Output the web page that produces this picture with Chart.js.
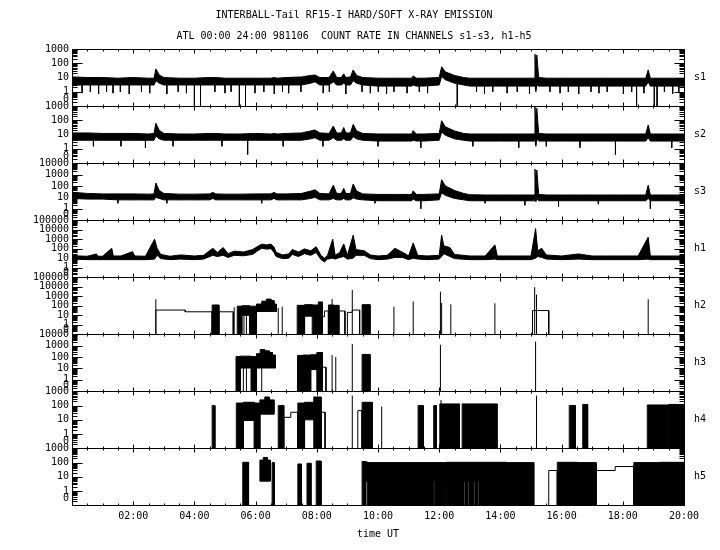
<!DOCTYPE html>
<html><head><meta charset="utf-8">
<script src="https://cdn.jsdelivr.net/npm/chart.js@4/dist/chart.umd.min.js"></script>
<style>html,body{margin:0;padding:0;background:#fff}canvas{display:block}</style>
</head><body><canvas id="c" width="720" height="550"></canvas>
<script>
// ---------- DATA ----------
const titleLines = ['INTERBALL-Tail RF15-I HARD/SOFT X-RAY EMISSION', 'ATL 00:00 24:00 981106  COUNT RATE IN CHANNELS s1-s3, h1-h5'];
const xTitle = 'time UT';
const hourTicks = [2, 4, 6, 8, 10, 12, 14, 16, 18, 20];
const panelNames = ['s1', 's2', 's3', 'h1', 'h2', 'h3', 'h4', 'h5'];
const panelMax = [1000, 1000, 10000, 100000, 100000, 10000, 1000, 1000];

// soft channels: common time grid (hours UT), upper / lower envelope of the noisy trace (counts)
const sTime = [0,0.5,1,1.5,2,2.5, 2.68,2.74,2.85,3.0, 3.5,4,4.5,4.6,4.7, 5,5.5,6,6.5,6.6,6.7, 7,7.5,7.8,7.94,8.1, 8.4,8.54,8.65,8.8,8.88,8.95, 9.1,9.19,9.3,9.5, 10,10.5,11,11.1,11.15,11.25,11.5, 12.0,12.08,12.2,12.5,12.8, 13,13.5,14,14.5,15, 15.1,15.13,15.16,15.19,15.25, 15.5,16,16.5,17,17.5,18,18.5, 18.75,18.83,18.9,19,19.5,20];
const s1Hi = [11,10,10,9,10,9, 9,40,15,10, 9,9,10,10,10, 9,9,9,9,10,9, 10,11,14,15,10, 10,29,10,10,18,10, 11,34,14,10, 9,9,9,9,13,9,9, 10,57,25,14,10, 9,9,9,9,9, 9,425,30,380,10, 9,9,9,9,9,9,9, 9,34,9,9,9,9];
const s1Lo = [3,3,3,3,3,3, 3,6,4,3, 3,3,3,3,3, 3,3,3,3,3,3, 3,3,4,5,3, 3,5,3,3,4,3, 3,6,4,3, 2.5,2.5,2.5,2.5,3,2.5,2.5, 3,12,7,4,3, 2.5,2.5,2.5,2.5,2.5, 2.5,3,1,3,2.5, 2.5,2.5,2.5,2.5,2.5,2.5,2.5, 2.5,5,2.5,2.5,2.5,2.5];
const s2Hi = [13,13,12,12,12,11, 12,62,20,12, 11,11,12,12,12, 11,11,12,11,12,11, 12,13,18,21,13, 12,40,13,13,31,13, 13,52,18,12, 11,11,11,11,19,11,11, 12,95,35,18,12, 11,11,11,11,11, 11,900,40,700,12, 11,11,11,11,11,11,11, 11,47,11,11,11,11];
const s2Lo = [4,4,4,4,4,4, 4,8,5,4, 4,4,4,4,4, 4,4,4,4,4,4, 4,4,5,6,4, 4,6,4,4,5,4, 4,7,5,4, 3.5,3.5,3.5,3.5,4,3.5,3.5, 4,15,9,5,4, 3.5,3.5,3.5,3.5,3.5, 3.5,5,1.5,5,3.5, 3.5,3.5,3.5,3.5,3.5,3.5,3.5, 3.5,6,3.5,3.5,3.5,3.5];
const s3Hi = [28,22,20,20,20,19, 20,180,40,22, 19,19,20,27,20, 19,19,20,20,27,20, 20,22,35,46,22, 20,117,22,22,60,22, 22,145,35,20, 18,18,18,18,37,18,18, 20,350,100,40,22, 17,16,16,16,16, 16,3000,60,2500,18, 16,16,16,16,16,16,16, 16,117,16,16,16,16];
const s3Lo = [8,7,7,6,6,6, 6,10,8,6, 6,6,6,8,6, 6,6,6,6,8,6, 6,6,8,10,6, 6,8,6,6,8,6, 6,9,7,6, 5,5,5,5,7,5,5, 6,25,15,8,6, 5,5,5,5,5, 5,8,4,8,5, 5,5,5,5,5,5,5, 5,8,5,5,5,5];

// downward excursions below the soft bands (time, count; 0 = zero count)
const s1DipT = [0.33,0.6,0.87,1.13,1.34,1.58,1.87,2.27,2.54,3.1,3.47,3.74,4.0,4.2,4.67,5.0,5.2,5.47,5.67,5.98,6.27,6.61,6.88,7.08,7.48,8.21,8.41,8.95,9.48,9.75,10.01,10.28,10.52,10.95,11.35,11.62,12.59,13.22,13.48,13.75,14.22,14.55,14.95,15.62,15.95,16.22,16.56,16.96,17.22,17.49,18.02,18.29,18.45,18.69,19.03,19.12,19.36,19.63,19.83];
const s1DipV = [0.8,1,0.7,1,0.8,1,0.7,1,0.8,0.7,1,0.8,0,0,1,0.8,1,0,0,0.8,1,0.7,1,0.8,1,0.8,1,0.7,1,0.8,1,0.7,1,0.8,1,0.8,0,1,0.7,1,0.8,1,0.7,1,0.8,1,0.7,1,0.8,1,0.7,1,0,0.8,0,0,1,0.7,1];
const s2DipT = [0.7,1.6,2.4,3.3,4.9,5.74,6.9,8.2,10.0,11.4,13.1,14.6,15.5,16.6,17.76,19.6];
const s2DipV = [1.5,1.5,1.2,1.5,1.5,0.4,1.5,1.5,1.5,1.2,1.5,1.2,1.5,1.2,0.4,1.2];
const s3DipT = [1.5,3.1,6.2,9.9,11.4,13.5,14.8,15.9,17.2,18.9];
const s3DipV = [3,3,3,3,1,3,2,1.5,2.5,1];

// h1: time grid and envelopes
const h1Time = [0,0.5,0.8,0.85,1.0,1.3,1.35,1.6,1.98,2.05, 2.4,2.7,2.78,2.9,3.2,3.55,4.0,4.3,4.6,4.75, 4.94,5.1,5.3,5.6,5.9,6.1,6.2,6.35,6.5,6.6, 6.67,6.88,7.08,7.2,7.4,7.6,7.8,7.98,8.14,8.25, 8.35,8.52,8.6,8.75,8.88,9.0,9.19,9.28,9.55,9.75, 10.0,10.3,10.55,10.8,11.0,11.15,11.3,11.6,12.0,12.08, 12.15,12.35,12.5,13.0,13.5,13.82,13.9,14.5,15.0,15.15, 15.22,15.35,15.5,16.0,16.55,17.0,17.5,18.0,18.5,18.83, 18.9,19.5,20];
const h1Hi = [18,16,28,16,16,110,17,17,49,17, 16,1000,110,25,16,22,17,20,110,40, 130,30,55,45,80,200,300,250,300,150, 42,22,28,80,45,95,60,160,19,10, 20,1000,20,40,320,20,2700,80,60,22, 17,20,110,42,18,400,20,17,20,2700, 200,130,25,17,17,250,17,17,17,13000, 60,110,22,17,28,17,17,17,17,1600, 17,17,17];
const h1Lo = [8,7,7,7,7,7,7,7,7,7, 7,8,20,9,7,8,7,8,20,15, 20,12,20,18,25,70,110,90,100,40, 15,9,10,25,15,30,20,40,7,4, 8,10,8,12,15,8,10,20,20,9, 7,8,12,12,7,10,8,7,8,15, 30,15,9,7,7,8,7,7,7,10, 15,12,8,7,8,7,7,7,7,8, 7,7,7];

// hard channels: dense blocks (start h, end h, top count, bottom count)
const h2BlkS = [4.58,5.40,5.55,5.80,6.03,6.20,6.35,6.50,6.60,7.36,7.60,7.85,8.05,8.38,8.55,9.48];
const h2BlkE = [4.80,5.55,5.80,6.03,6.20,6.35,6.50,6.60,6.68,7.60,7.85,8.05,8.18,8.55,8.72,9.74];
const h2BlkTop = [120,90,100,90,150,300,500,350,150,110,130,120,250,120,110,130];
const h2BlkBot = [0,0,10,0,25,25,25,25,25,0,8,0,0,0,0,0];
const h2SpkT = [2.74,5.30,5.62,5.70,6.74,6.87,8.50,9.16,10.52,11.15,12.04,12.08,12.38,13.82,15.12,15.18,18.83];
const h2SpkV = [480,70,100,100,60,80,500,4600,80,275,3000,200,140,180,9000,1500,480];
const h2StepS = [2.74,3.70,4.80,8.18,8.25,8.72,9.00,9.16,15.05];
const h2StepE = [3.70,4.58,5.27,8.25,8.38,8.92,9.16,9.40,15.58];
const h2StepV = [35,23,23,7,28,28,20,35,31];

const h3BlkS = [5.36,5.50,5.85,6.03,6.15,6.30,6.45,6.55,7.37,7.55,7.80,8.00,9.48];
const h3BlkE = [5.50,5.85,6.03,6.15,6.30,6.45,6.55,6.65,7.55,7.80,8.00,8.18,9.74];
const h3BlkTop = [110,120,110,200,450,350,250,150,140,150,160,250,170];
const h3BlkBot = [0,11,0,11,11,11,11,11,0,0,8,0,0];
const h3SpkT = [5.6,5.7,6.2,8.50,8.62,9.16,12.04,15.15];
const h3SpkV = [100,100,300,150,100,1400,1200,2300];
const h3StepS = [8.18];
const h3StepE = [8.30];
const h3StepV = [13];

const h4BlkS = [4.58,5.37,5.60,5.95,6.14,6.30,6.45,6.74,7.38,7.60,7.90,9.48,11.31,11.82,12.02,12.75,16.25,16.69,18.80,19.49];
const h4BlkE = [4.67,5.60,5.95,6.14,6.30,6.45,6.60,6.92,7.60,7.90,8.14,9.81,11.48,11.91,12.66,13.89,16.45,16.85,19.47,20.00];
const h4BlkTop = [100,150,170,150,250,400,250,100,150,170,400,170,100,100,130,130,100,120,110,120];
const h4BlkBot = [0,0,9,0,25,25,25,0,0,10,0,0,0,0,0,0,0,0,0,0];
const h4SpkT = [9.16,10.12,12.06,15.18];
const h4SpkV = [500,85,250,500];
const h4StepS = [6.92,7.15,8.14,9.34];
const h4StepE = [7.15,7.38,8.27,9.48];
const h4StepV = [15,34,34,44];

const h5BlkS = [5.58,6.14,6.25,6.38,6.54,7.38,7.68,7.98,9.48,9.60,9.66,11.80,11.84,12.20,12.24,12.80,12.84,12.93,12.97,13.13,13.17,13.26,13.30,14.20,15.86,16.50,18.36,19.20];
const h5BlkE = [5.77,6.25,6.38,6.48,6.61,7.50,7.81,8.14,9.60,9.66,11.80,11.84,12.20,12.24,12.80,12.84,12.93,12.97,13.13,13.17,13.26,13.30,14.20,15.09,16.50,17.13,19.20,20.00];
const h5BlkTop = [105,150,230,150,100,80,90,130,120,110,100,100,100,100,105,105,105,105,105,105,105,105,105,100,105,100,100,105];
const h5BlkBot = [0,5,5,5,0,0,0,0,0,5,0,5,0,5,0,5,0,5,0,5,0,5,0,0,0,0,0,0];
const h5StepS = [15.58,17.13,17.75];
const h5StepE = [15.86,17.75,18.36];
const h5StepV = [28,28,53];

// ---------- BUILD ----------
const MONO = 'DejaVu Sans Mono';
const ZERO_TICK = -0.5;
const L = v => (v === null ? null : (v <= 0 ? -1 : Math.log10(v)));
const line = {borderColor:'#000', backgroundColor:'#000', borderWidth:1, pointRadius:0, tension:0, spanGaps:false};
const ds = [];

function pts(ts, vs){ return ts.map((t,i)=>({x:t, y:L(vs[i])})); }
function addBand(id, ts, hi, lo){
  ds.push(Object.assign({yAxisID:id, data:pts(ts,hi), fill:'+1'}, line));
  ds.push(Object.assign({yAxisID:id, data:pts(ts,lo), fill:false}, line));
}
function addVLines(id, ts, vs, base){
  const d=[]; ts.forEach((t,i)=>{ d.push({x:t,y:L(base)},{x:t,y:L(vs[i])},{x:t,y:null}); });
  ds.push(Object.assign({yAxisID:id, data:d, fill:false}, line));
}
function addBlocks(id, S, E, T, B){
  const top=[], bot=[];
  S.forEach((s,i)=>{ const e=E[i], t=L(T[i]), b=L(B[i]);
    top.push({x:s,y:b},{x:s,y:t},{x:e,y:t},{x:e,y:b},{x:e,y:null});
    bot.push({x:s,y:b},{x:e,y:b},{x:e,y:null}); });
  ds.push(Object.assign({yAxisID:id, data:top, fill:'+1'}, line));
  ds.push(Object.assign({yAxisID:id, data:bot, fill:false}, line));
}
function addSteps(id, S, E, V){
  const d=[];
  S.forEach((s,i)=>{
    const joined = i>0 && s===E[i-1];
    if(!joined){ if(i>0){ d.push({x:E[i-1],y:-1},{x:E[i-1],y:null}); } d.push({x:s,y:-1}); }
    d.push({x:s,y:L(V[i])},{x:E[i],y:L(V[i])});
  });
  if(S.length) d.push({x:E[E.length-1],y:-1});
  ds.push(Object.assign({yAxisID:id, data:d, fill:false}, line));
}

addBand('s1', sTime, s1Hi, s1Lo); addVLines('s1', s1DipT, s1DipV, 4);
addBand('s2', sTime, s2Hi, s2Lo); addVLines('s2', s2DipT, s2DipV, 5);
addBand('s3', sTime, s3Hi, s3Lo); addVLines('s3', s3DipT, s3DipV, 8);
addBand('h1', h1Time, h1Hi, h1Lo);
addBlocks('h2', h2BlkS, h2BlkE, h2BlkTop, h2BlkBot); addVLines('h2', h2SpkT, h2SpkV, 0); addSteps('h2', h2StepS, h2StepE, h2StepV);
addBlocks('h3', h3BlkS, h3BlkE, h3BlkTop, h3BlkBot); addVLines('h3', h3SpkT, h3SpkV, 0); addSteps('h3', h3StepS, h3StepE, h3StepV);
addBlocks('h4', h4BlkS, h4BlkE, h4BlkTop, h4BlkBot); addVLines('h4', h4SpkT, h4SpkV, 0); addSteps('h4', h4StepS, h4StepE, h4StepV);
addBlocks('h5', h5BlkS, h5BlkE, h5BlkTop, h5BlkBot); addSteps('h5', h5StepS, h5StepE, h5StepV);

const scales = {
  x: {type:'linear', min:0, max:20,
    afterBuildTicks: s => { s.ticks = hourTicks.map(v=>({value:v})); },
    ticks:{autoSkip:false, maxRotation:0, padding:5, color:'#000', font:{family:MONO, size:10},
      callback: v => String(v).padStart(2,'0') + ':00'},
    grid:{display:false, drawTicks:false}, border:{display:false},
    title:{display:true, text:xTitle, color:'#000', font:{family:MONO, size:10}, padding:{top:1, bottom:0}}}
};
panelNames.forEach((id,i)=>{
  const top = Math.round(Math.log10(panelMax[i]));
  scales[id] = {type:'linear', position:'left', stack:'panels', stackWeight:1, weight: panelNames.length - i,
    min:-1, max:top,
    afterBuildTicks: s => { const t=[{value:ZERO_TICK}]; for(let d=0; d<=top; d++) t.push({value:d}); s.ticks=t; },
    afterFit: s => { s.width = 48; },
    ticks:{autoSkip:false, padding:3, color:'#000', font:{family:MONO, size:10},
      callback: v => v===ZERO_TICK ? '0' : String(Math.round(Math.pow(10, v)))},
    grid:{display:false, drawTicks:false}, border:{display:false}};
});

const framePlugin = {
  id:'frame',
  afterDatasetsDraw(chart){
    const {ctx, chartArea:a, scales:sc} = chart; const xs = sc.x;
    const c = v => Math.round(v) + 0.5;
    const L0 = c(a.left), R0 = c(a.right);
    ctx.save(); ctx.strokeStyle='#000'; ctx.lineWidth=1; ctx.beginPath();
    ctx.moveTo(L0, Math.round(a.top)); ctx.lineTo(L0, Math.round(a.bottom)+1);
    ctx.moveTo(R0, Math.round(a.top)); ctx.lineTo(R0, Math.round(a.bottom)+1);
    panelNames.forEach((id,i)=>{
      const s = sc[id]; const top = c(s.top), bot = c(s.bottom);
      ctx.moveTo(L0, top); ctx.lineTo(R0, top);
      if(i === panelNames.length-1){ ctx.moveTo(L0, bot); ctx.lineTo(R0, bot); }
      for(let d=-1; d<s.max; d++) for(let k=1; k<=9; k++){
        const v = d + Math.log10(k); if(v <= -1) continue;
        const y = c(s.getPixelForValue(v)); const len = k===1 ? 10 : 5;
        ctx.moveTo(L0, y); ctx.lineTo(L0+len, y); ctx.moveTo(R0, y); ctx.lineTo(R0-len, y);
      }
      for(let t=0; t<=20; t+=0.5){
        const x = c(xs.getPixelForValue(t)); const len = (t%2===0) ? 4 : 2;
        ctx.moveTo(x, top); ctx.lineTo(x, top+len); ctx.moveTo(x, bot); ctx.lineTo(x, bot-len);
      }
    });
    ctx.stroke();
    ctx.fillStyle='#000'; ctx.font='10px "'+MONO+'"'; ctx.textAlign='center'; ctx.textBaseline='middle';
    panelNames.forEach(id=>{ const s=sc[id]; ctx.fillText(id, a.right+16, (s.top+s.bottom)/2); });
    ctx.restore();
  }
};

new Chart(document.getElementById('c'), {
  type:'line',
  data:{datasets:ds},
  options:{responsive:false, animation:false, devicePixelRatio:1, events:[],
    layout:{padding:{top:0, left:24, right:36, bottom:9.6}},
    plugins:{legend:{display:false}, tooltip:{enabled:false},
      title:{display:true, text:titleLines, color:'#000', font:{family:MONO, size:10, lineHeight:'21px', weight:'normal'}, padding:{top:4.5, bottom:2.5}}},
    scales},
  plugins:[framePlugin]
});
</script></body></html>
